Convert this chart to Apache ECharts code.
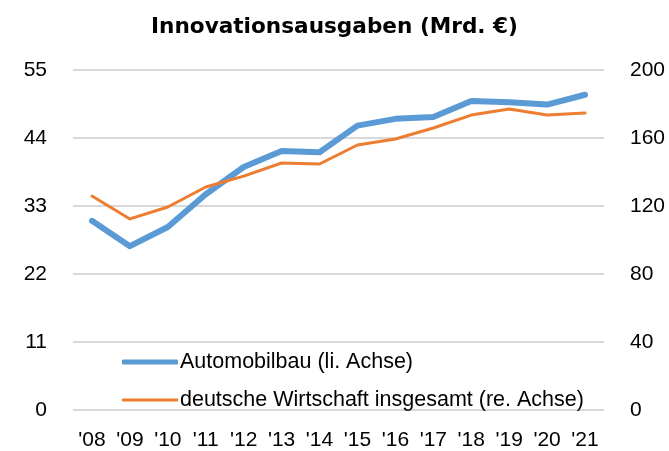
<!DOCTYPE html>
<html>
<head>
<meta charset="utf-8">
<script src="https://cdn.jsdelivr.net/npm/echarts@6/dist/echarts.min.js"></script>
<style>
  html, body { margin: 0; padding: 0; background: #fff; }
  #chart { width: 669px; height: 451px; }
</style>
</head>
<body>
<div id="chart"></div>
<script>
	// Jahre und Werte
	var years = ["'08", "'09", "'10", "'11", "'12", "'13", "'14", "'15", "'16", "'17", "'18", "'19", "'20", "'21"];
	var automobilbau = [30.6, 26.5, 29.6, 34.9, 39.3, 41.9, 41.7, 46.0, 47.1, 47.4, 50.0, 49.8, 49.4, 51.0];
	var gesamt = [125.9, 112.4, 119.4, 131.2, 137.6, 145.3, 144.7, 155.9, 159.4, 165.9, 173.5, 177.1, 173.5, 174.7];
	var nameAuto = 'Automobilbau (li. Achse)';
	var nameGesamt = 'deutsche Wirtschaft insgesamt (re. Achse)';

	var myChart = echarts.init(document.getElementById('chart'));
	var font = 'Liberation Sans';
	var labelStyle = { fontFamily: font, fontSize: 21, color: '#000' };

	var option = {
		backgroundColor: '#fff',
		animation: false,
		title: {
			text: 'Innovationsausgaben (Mrd. €)',
			left: 'center',
			top: 11,
			textStyle: {
				fontFamily: 'DejaVu Sans',
				fontWeight: 'bold',
				fontSize: 21.6,
				color: '#000'
			}
		},
		// zwei Legenden, damit die Linien unterschiedlich dick sind
		legend: [
			{
				left: 117,
				top: 346,
				icon: 'roundRect',
				itemWidth: 56,
				itemHeight: 5,
				textStyle: { fontFamily: font, fontSize: 21.5, color: '#000', padding: [0, 0, 0, -3] },
				data: [nameAuto]
			},
			{
				left: 117,
				top: 384,
				icon: 'roundRect',
				itemWidth: 56,
				itemHeight: 3,
				textStyle: { fontFamily: font, fontSize: 21.5, color: '#000', padding: [0, 0, 0, -3] },
				data: [nameGesamt]
			}
		],
		grid: {
			left: 73,
			right: 65,
			top: 70,
			bottom: 41
		},
		xAxis: {
			type: 'category',
			data: years,
			axisLine: { show: false },
			axisTick: { show: false },
			axisLabel: Object.assign({ margin: 20 }, labelStyle)
		},
		yAxis: [
			{
				type: 'value',
				min: 0,
				max: 55,
				interval: 11,
				axisLine: { show: false },
				axisTick: { show: false },
				axisLabel: Object.assign({ margin: 26 }, labelStyle),
				splitLine: { lineStyle: { color: '#d9d9d9', width: 2 } }
			},
			{
				type: 'value',
				min: 0,
				max: 200,
				interval: 40,
				axisLine: { show: false },
				axisTick: { show: false },
				axisLabel: Object.assign({ margin: 26 }, labelStyle),
				splitLine: { show: false }
			}
		],
		series: [
			{
				name: nameAuto,
				type: 'line',
				yAxisIndex: 0,
				symbol: 'none',
				data: automobilbau,
				itemStyle: { color: '#5b9bd5' },
				lineStyle: { color: '#5b9bd5', width: 6, cap: 'round', join: 'round' },
				z: 3
			},
			{
				name: nameGesamt,
				type: 'line',
				yAxisIndex: 1,
				symbol: 'none',
				data: gesamt,
				itemStyle: { color: '#ed7d31' },
				lineStyle: { color: '#ed7d31', width: 3, cap: 'round', join: 'round' },
				z: 4
			}
		]
	};
	myChart.setOption(option);
</script>
</body>
</html>
